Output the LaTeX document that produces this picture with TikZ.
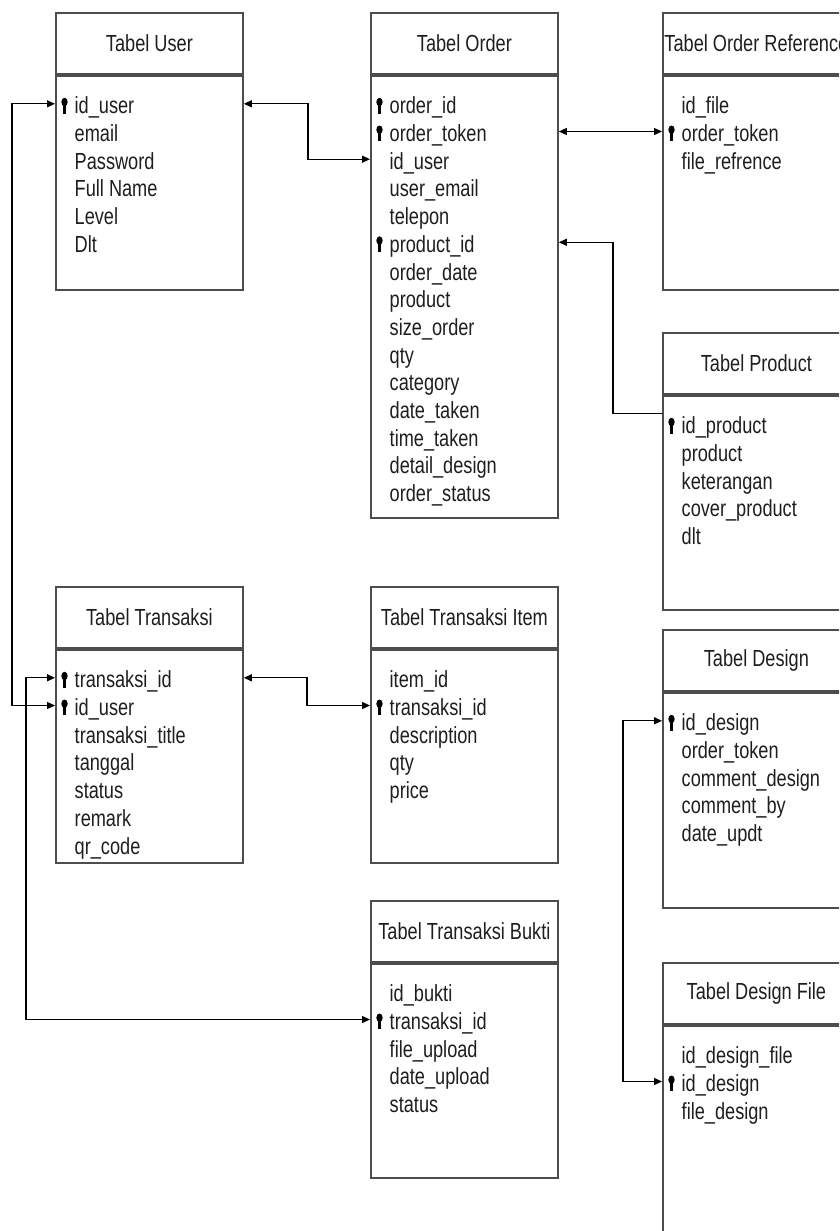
\documentclass[tikz,border=0pt]{standalone}
\usepackage{fontspec}
\setmainfont{Liberation Sans}[FakeStretch=0.78]
\usetikzlibrary{arrows.meta,calc}
\definecolor{figLine}{HTML}{4D4D4D}
\definecolor{figText}{HTML}{1E1E1E}
\newcommand{\tblfont}{\fontsize{23.3}{28}\selectfont}
\tikzset{
  hdr/.style={draw=figLine,line width=1.8pt,minimum width=187pt,minimum height=61pt,anchor=north west,inner sep=0pt,font=\tblfont,text=figText},
  tbody/.style={draw=figLine,line width=1.8pt,minimum width=187pt,anchor=north west,inner sep=0pt},
  field/.style={anchor=base west,inner sep=0pt,text height=20pt,text depth=0pt,font=\tblfont,text=figText},
  link/.style={draw=black,line width=1.3pt},
  pkey/.pic={\fill[black] (0,-11.8) ellipse (3.2pt and 4.2pt);
             \fill[black] (-1.6,-11) rectangle (1.6,-0.3);}
}
\begin{document}
\begin{tikzpicture}[x=1pt,y=-1pt,>={Triangle[length=8pt,width=7pt]}]
\useasboundingbox (0,0) rectangle (839,1231);
\clip (0,0) rectangle (839,1231);
% tables
\node[hdr] (userhdr) at (55,12) {Tabel User};
\node[tbody,minimum height=214pt] (userbody) at (userhdr.south west) {};
\foreach \f [count=\i] in {id\_user,email,Password,Full Name,Level,Dlt}
  \node[field] (user\i) at ($(userbody.north west)+(19.5,{39+27.7*(\i-1)})$) {\f};

\node[hdr] (orderhdr) at (370,12) {Tabel Order};
\node[tbody,minimum height=442pt] (orderbody) at (orderhdr.south west) {};
\foreach \f [count=\i] in {order\_id,order\_token,id\_user,user\_email,telepon,product\_id,order\_date,product,size\_order,qty,category,date\_taken,time\_taken,detail\_design,order\_status}
  \node[field] (order\i) at ($(orderbody.north west)+(19.5,{39+27.7*(\i-1)})$) {\f};

\node[hdr] (refhdr) at (662,12) {Tabel Order Reference};
\node[tbody,minimum height=214pt] (refbody) at (refhdr.south west) {};
\foreach \f [count=\i] in {id\_file,order\_token,file\_refrence}
  \node[field] (ref\i) at ($(refbody.north west)+(19.5,{39+27.7*(\i-1)})$) {\f};

\node[hdr] (prodhdr) at (662,332) {Tabel Product};
\node[tbody,minimum height=214pt] (prodbody) at (prodhdr.south west) {};
\foreach \f [count=\i] in {id\_product,product,keterangan,cover\_product,dlt}
  \node[field] (prod\i) at ($(prodbody.north west)+(19.5,{39+27.7*(\i-1)})$) {\f};

\node[hdr] (deshdr) at (662,629) {Tabel Design};
\node[tbody,minimum height=215pt] (desbody) at (deshdr.south west) {};
\foreach \f [count=\i] in {id\_design,order\_token,comment\_design,comment\_by,date\_updt}
  \node[field] (des\i) at ($(desbody.north west)+(19.5,{39+27.7*(\i-1)})$) {\f};

\node[hdr] (dfhdr) at (662,962) {Tabel Design File};
\node[tbody,minimum height=300pt] (dfbody) at (dfhdr.south west) {};
\foreach \f [count=\i] in {id\_design\_file,id\_design,file\_design}
  \node[field] (df\i) at ($(dfbody.north west)+(19.5,{39+27.7*(\i-1)})$) {\f};

\node[hdr] (transhdr) at (55,586) {Tabel Transaksi};
\node[tbody,minimum height=213pt] (transbody) at (transhdr.south west) {};
\foreach \f [count=\i] in {transaksi\_id,id\_user,transaksi\_title,tanggal,status,remark,qr\_code}
  \node[field] (trans\i) at ($(transbody.north west)+(19.5,{39+27.7*(\i-1)})$) {\f};

\node[hdr] (itemhdr) at (370,586) {Tabel Transaksi Item};
\node[tbody,minimum height=213pt] (itembody) at (itemhdr.south west) {};
\foreach \f [count=\i] in {item\_id,transaksi\_id,description,qty,price}
  \node[field] (item\i) at ($(itembody.north west)+(19.5,{39+27.7*(\i-1)})$) {\f};

\node[hdr] (buktihdr) at (370,900) {Tabel Transaksi Bukti};
\node[tbody,minimum height=214pt] (buktibody) at (buktihdr.south west) {};
\foreach \f [count=\i] in {id\_bukti,transaksi\_id,file\_upload,date\_upload,status}
  \node[field] (bukti\i) at ($(buktibody.north west)+(19.5,{39+27.7*(\i-1)})$) {\f};

% primary keys
\foreach \k in {user1,order1,order2,order6,ref2,prod1,des1,df2,trans1,trans2,item2,bukti2}
  \pic at ([xshift=-10pt]\k.base west) {pkey};

% relations
\coordinate (bendUO) at (308,0);
\coordinate (bendOP) at (613,0);
\coordinate (bendUT) at (12,0);
\coordinate (bendTB) at (26,0);
\coordinate (bendTI) at (307,0);
\coordinate (bendDD) at (623,0);
\coordinate (prodhook) at ([yshift=-19pt]prodbody.north west);

\draw[link,<->] (userbody.east |- user1) -| (bendUO |- order3) -- (orderbody.west |- order3);
\draw[link,<->] (orderbody.east |- order2) -- (refbody.west |- ref2);
\draw[link,<-] (orderbody.east |- order6) -| (bendOP |- prodhook) -- (prodhook);
\draw[link,<->] (userbody.west |- user1) -| (bendUT |- trans2) -- (transbody.west |- trans2);
\draw[link,<->] (transbody.west |- trans1) -| (bendTB |- bukti2) -- (buktibody.west |- bukti2);
\draw[link,<->] (transbody.east |- trans1) -| (bendTI |- item2) -- (itembody.west |- item2);
\draw[link,<->] (desbody.west |- des1) -| (bendDD |- df2) -- (dfbody.west |- df2);
\end{tikzpicture}
\end{document}
